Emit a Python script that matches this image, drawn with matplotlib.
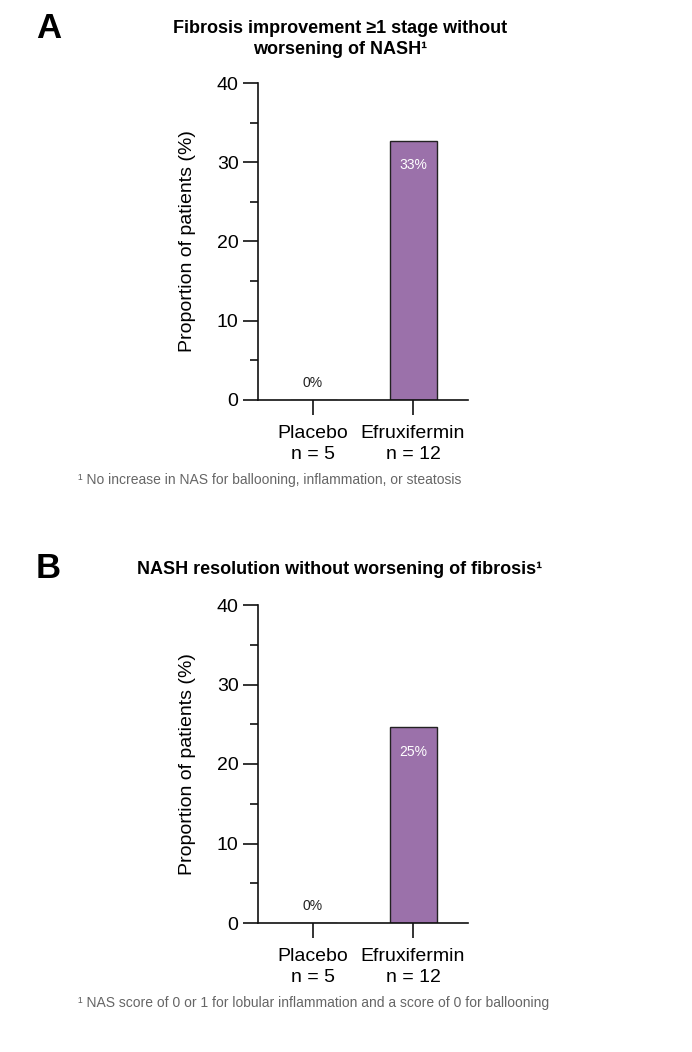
import matplotlib
matplotlib.use("Agg")
import matplotlib.pyplot as plt
from matplotlib.ticker import MultipleLocator

plt.rcParams['font.family'] = ['Liberation Sans', 'DejaVu Sans']

categories = ["Placebo\nn = 5", "Efruxifermin\nn = 12"]
values_a = [0.0, 32.7]
labels_a = ["0%", "33%"]
values_b = [0.0, 24.6]
labels_b = ["0%", "25%"]
title_a = "Fibrosis improvement \u22651 stage without\nworsening of NASH\u00b9"
title_b = "NASH resolution without worsening of fibrosis\u00b9"
foot_a = "\u00b9 No increase in NAS for ballooning, inflammation, or steatosis"
foot_b = "\u00b9 NAS score of 0 or 1 for lobular inflammation and a score of 0 for ballooning"
ylabel = "Proportion of patients (%)"

W, H = 692, 1052
fig = plt.figure(figsize=(W / 100, H / 100), dpi=100)
BAR = "#9b71aa"

def px(x, y):
    return x / W, 1 - y / H

def panel(top, bottom, values, labels, title, title_y, letter, letter_y, foot, foot_y):
    left, right = 258, 468
    ax = fig.add_axes([left / W, 1 - bottom / H, (right - left) / W, (bottom - top) / H])
    x = list(range(len(categories)))
    ax.bar(x, values, width=0.47, color=BAR, edgecolor="#222222", linewidth=1.0, zorder=2)
    ax.set_xlim(-0.55, 1.55)
    ax.set_ylim(0, 40)
    ax.yaxis.set_major_locator(MultipleLocator(10))
    ax.yaxis.set_minor_locator(MultipleLocator(5))
    ax.set_xticks(x)
    ax.set_xticklabels(categories, fontsize=14, linespacing=1.3)
    for s in ["top", "right"]:
        ax.spines[s].set_visible(False)
    for s in ["left", "bottom"]:
        ax.spines[s].set_linewidth(1.2)
        ax.spines[s].set_color("#111111")
    ax.tick_params(axis="y", which="major", length=11, width=1.2, labelsize=14, pad=3, color="#111111")
    ax.tick_params(axis="y", which="minor", length=6, width=1.2, color="#111111")
    ax.tick_params(axis="x", which="major", length=11, width=1.2, pad=7, color="#111111")
    for i, (v, lab) in enumerate(zip(values, labels)):
        if v > 3:
            ax.annotate(lab, (i, v), xytext=(0, -17.5), textcoords="offset points",
                        ha="center", va="center", color="white", fontsize=10)
        else:
            ax.annotate(lab, (i, v), xytext=(0, 12.5), textcoords="offset points",
                        ha="center", va="center", color="#222222", fontsize=10)
    cy = (top + bottom) / 2
    fig.text(*px(187, cy), ylabel, rotation=90, ha="center", va="center", fontsize=14)
    fig.text(*px(340, title_y), title, ha="center", va="center", fontsize=13,
             fontweight="bold", linespacing=1.25)
    fig.text(*px(36, letter_y), letter, ha="left", va="center", fontsize=25, fontweight="bold")
    fig.text(*px(78, foot_y), foot, ha="left", va="center", fontsize=10, color="#666666")
    return ax

panel(83, 400, values_a, labels_a, title_a, 39, "A", 28, foot_a, 480)
panel(605, 923, values_b, labels_b, title_b, 569, "B", 569, foot_b, 1003)

fig.savefig("out.png", dpi=100)
